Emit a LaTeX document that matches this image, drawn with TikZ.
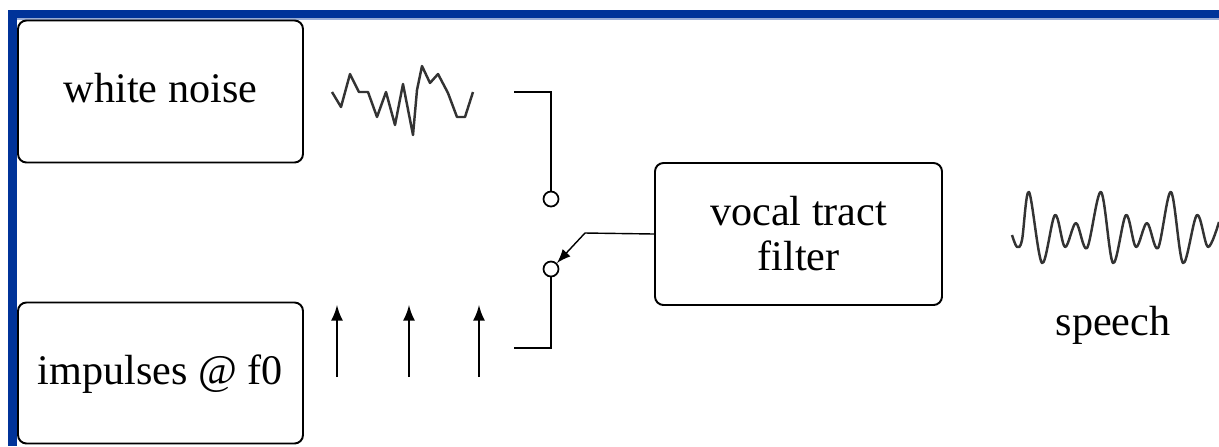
\documentclass[tikz,border=0pt]{standalone}
\usepackage{fontspec}
\setmainfont{Liberation Serif}
\definecolor{frameblue}{RGB}{0,51,153}

\begin{document}
\begin{tikzpicture}[
	x=0.1mm, y=-0.1mm,
	block/.style={ draw, line width=0.55pt, rounded corners=2.4pt, inner sep=0pt, minimum width=28.5mm, minimum height=14.2mm, font=\fontsize{12}{12.8}\selectfont, align=center },
	oneline/.style={ text height=8pt, text depth=1.5pt },
	contact/.style={ circle, draw, line width=0.5pt, fill=white, inner sep=0pt, minimum size=1.5mm },
	wire/.style={ line width=0.55pt },
	wave/.style={ line width=0.7pt, line join=round, black!80 },
]
\useasboundingbox (0,0) rectangle (1219,446);

% window frame
\fill[white] (0,0) rectangle (1219,446);
\fill[frameblue] (8,10) rectangle (1219,446);
\fill[frameblue!40] (17,18) rectangle (1219,19.5);
\fill[white] (17,19.5) rectangle (1219,446);

% sources
\node at (160.5,91.5) (noise) [block,oneline] {white noise};
\node at (160.5,373) (pulses) [block,oneline,minimum height=14.1mm] {impulses @ f0};

\draw[wave] plot coordinates {(332,92) (341,107) (350,74) (359,92) (368,92) (377,117) (386,92)
	(395,125) (403,84) (413,135) (417,90) (422,66) (430,83) (438,74) (448,93) (457,117) (465,117) (473,92)};

\foreach \x in {337,409,479} {
	\draw[wire,-latex] (\x,377) -- (\x,305);
}

% switch
\node at (551,199) (swa) [contact] {};
\node at (551,269) (swb) [contact] {};
\coordinate (nz) at (514,92);
\coordinate (imp) at (514,348);
\draw[wire] (nz) -| (swa.north);
\draw[wire] (imp) -| (swb.south);

\node at (798.5,234) (vtf) [block,minimum width=28.7mm] {vocal tract\\filter};
\coordinate (pivot) at (585,233);
\draw[line width=0.4pt,-latex] (vtf.west) -- (pivot) -- (swb.north east);

% output
\draw[wave] plot[smooth,tension=0.55] coordinates {(1012,235) (1017,247) (1022,240) (1029,192) (1042,263)
	(1055,215) (1065,247) (1076,223) (1087,248) (1101,192) (1113,263) (1126,215) (1136,247)
	(1147,223) (1158,248) (1171,192) (1183,263) (1197,215) (1208,247) (1219,222)};
\node at (1113,335) (speech) [anchor=base,font=\fontsize{12}{12.8}\selectfont] {speech};

\end{tikzpicture}
\end{document}
